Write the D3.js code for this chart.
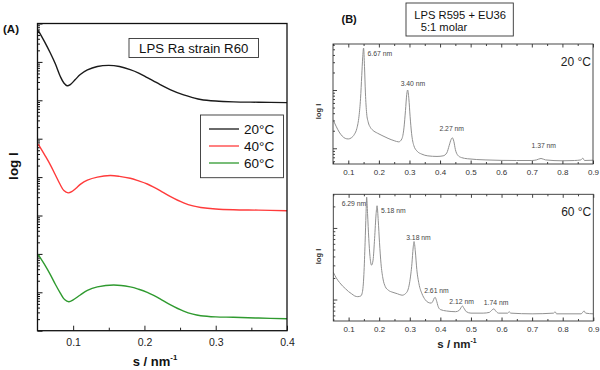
<!DOCTYPE html>
<html><head><meta charset="utf-8">
<script src="https://cdn.jsdelivr.net/npm/d3@7"></script>
<style>
body{margin:0;background:#fff}
svg{display:block}
text{font-family:"Liberation Sans",Arial,Helvetica,sans-serif}
</style>
</head><body>
<svg id="c" width="600" height="370"></svg>
<script>
// ---------- DATA ----------
// Panel A: [s (nm^-1), log10 I (arbitrary offset)]
const curveA20 = [[0.051,7.82],[0.060,7.52],[0.068,7.23],[0.075,6.95],[0.082,6.62],[0.087,6.45],[0.0915,6.38],[0.096,6.41],[0.103,6.54],[0.110,6.67],[0.120,6.79],[0.134,6.88],[0.150,6.91],[0.165,6.88],[0.180,6.80],[0.192,6.71],[0.204,6.59],[0.213,6.50],[0.222,6.41],[0.236,6.28],[0.255,6.14],[0.268,6.07],[0.279,6.02],[0.300,5.98],[0.325,5.96],[0.360,5.95],[0.400,5.94]];
const curveA40 = [[0.051,4.86],[0.060,4.58],[0.068,4.32],[0.075,4.06],[0.082,3.80],[0.087,3.65],[0.093,3.59],[0.098,3.62],[0.104,3.71],[0.110,3.81],[0.120,3.92],[0.134,4.00],[0.152,4.04],[0.165,4.02],[0.180,3.97],[0.192,3.90],[0.204,3.82],[0.213,3.74],[0.222,3.65],[0.236,3.50],[0.255,3.33],[0.268,3.25],[0.279,3.21],[0.300,3.17],[0.325,3.15],[0.360,3.14],[0.400,3.125]];
const curveA60 = [[0.051,1.98],[0.060,1.72],[0.068,1.46],[0.075,1.21],[0.082,0.98],[0.088,0.81],[0.094,0.755],[0.100,0.80],[0.110,0.93],[0.120,1.05],[0.134,1.14],[0.157,1.19],[0.180,1.14],[0.192,1.08],[0.204,1.00],[0.213,0.92],[0.222,0.83],[0.236,0.68],[0.255,0.51],[0.268,0.43],[0.279,0.39],[0.300,0.36],[0.325,0.35],[0.360,0.33],[0.400,0.31]];
const seriesA = ["20°C","40°C","60°C"];
const xTicksA = [0.1,0.2,0.3,0.4];

// Panel B: [s (nm^-1), log10 I]
const curveB20 = [[0.050,0.49],[0.060,0.38],[0.070,0.28],[0.080,0.21],[0.090,0.17],[0.100,0.16],[0.110,0.18],[0.120,0.24],[0.128,0.34],[0.135,0.55],[0.140,0.85],[0.144,1.25],[0.147,1.55],[0.150,1.72],[0.153,1.40],[0.156,0.95],[0.160,0.60],[0.165,0.45],[0.172,0.36],[0.180,0.31],[0.195,0.26],[0.210,0.22],[0.230,0.17],[0.250,0.13],[0.265,0.11],[0.275,0.16],[0.282,0.35],[0.287,0.65],[0.291,0.92],[0.294,1.00],[0.298,0.85],[0.302,0.55],[0.307,0.25],[0.314,0.05],[0.325,-0.05],[0.340,-0.10],[0.360,-0.13],[0.390,-0.14],[0.410,-0.13],[0.422,-0.08],[0.430,0.05],[0.436,0.15],[0.440,0.18],[0.445,0.12],[0.450,-0.02],[0.458,-0.12],[0.470,-0.16],[0.490,-0.18],[0.550,-0.20],[0.650,-0.21],[0.700,-0.21],[0.715,-0.20],[0.730,-0.175],[0.745,-0.20],[0.800,-0.215],[0.840,-0.21],[0.860,-0.20],[0.867,-0.17],[0.872,-0.21],[0.900,-0.205]];
const curveB60 = [[0.050,0.38],[0.060,0.30],[0.070,0.24],[0.080,0.19],[0.090,0.15],[0.100,0.11],[0.110,0.08],[0.120,0.05],[0.130,0.04],[0.140,0.05],[0.145,0.10],[0.150,0.35],[0.154,0.80],[0.157,1.20],[0.159,1.43],[0.162,1.20],[0.166,0.85],[0.170,0.60],[0.175,0.48],[0.180,0.55],[0.185,0.85],[0.190,1.20],[0.193,1.31],[0.197,1.10],[0.201,0.80],[0.206,0.50],[0.212,0.30],[0.220,0.18],[0.230,0.13],[0.245,0.10],[0.260,0.08],[0.275,0.06],[0.290,0.10],[0.300,0.25],[0.307,0.50],[0.311,0.72],[0.314,0.81],[0.318,0.68],[0.323,0.42],[0.330,0.22],[0.340,0.08],[0.350,0.00],[0.360,-0.04],[0.370,-0.05],[0.376,-0.02],[0.380,0.02],[0.383,0.03],[0.387,-0.01],[0.393,-0.10],[0.400,-0.14],[0.420,-0.16],[0.450,-0.17],[0.462,-0.15],[0.468,-0.11],[0.472,-0.09],[0.477,-0.12],[0.485,-0.17],[0.500,-0.19],[0.540,-0.19],[0.560,-0.18],[0.568,-0.15],[0.575,-0.13],[0.581,-0.16],[0.590,-0.19],[0.620,-0.19],[0.625,-0.17],[0.630,-0.19],[0.700,-0.20],[0.770,-0.19],[0.775,-0.17],[0.780,-0.20],[0.860,-0.20],[0.870,-0.16],[0.875,-0.19],[0.900,-0.20]];
const xTicksB = [0.1,0.2,0.3,0.4,0.5,0.6,0.7,0.8,0.9];
const peaksB20 = ["6.67","3.40","2.27","1.37"];   // d-spacings, nm
const peaksB60 = ["6.29","5.18","3.18","2.61","2.12","1.74"];

// ---------- LAYOUT ----------
const svg = d3.select("#c");
const FONT = '"Liberation Sans",Arial,sans-serif';
const pow10 = v => Math.pow(10, v);

function supTitle(g, x, y, size, color) {
  const t = g.append("text").attr("x", x).attr("y", y).attr("text-anchor","middle")
    .attr("font-size", size).attr("font-weight","bold").attr("fill", color);
  t.append("tspan").text("s / nm");
  t.append("tspan").attr("dy", -size*0.45).attr("font-size", size*0.6).text("-1");
}
function styleAxis(g, col, fs) {
  g.select(".domain").remove();
  g.selectAll("line").attr("stroke", col);
  g.selectAll("text").attr("fill", col).attr("font-size", fs).attr("font-family", FONT);
}

// ===== Panel A =====
const A = {l:37.5, r:287, t:23.5, b:330.7};
const xA = d3.scaleLinear().domain([0.05,0.4]).range([A.l, A.r]);
const yA = d3.scaleLog().domain([1, 1e8]).range([A.b, A.t]);
const gA = svg.append("g");

const yTicksAll = yA.ticks();
const yMajA = yTicksAll.filter(v => Math.abs(Math.log10(v) - Math.round(Math.log10(v))) < 1e-9);
const yMinA = yTicksAll.filter(v => !yMajA.includes(v));
styleAxis(gA.append("g").attr("transform",`translate(${A.l},0)`).call(d3.axisLeft(yA).tickValues(yMajA).tickSize(-5).tickFormat("")), "#111", 10);
styleAxis(gA.append("g").attr("transform",`translate(${A.l},0)`).call(d3.axisLeft(yA).tickValues(yMinA).tickSize(-2.5).tickFormat("")), "#111", 10);
styleAxis(gA.append("g").attr("transform",`translate(0,${A.b})`).call(d3.axisBottom(xA).tickValues(xTicksA).tickSize(-5).tickPadding(8).tickFormat(d3.format(".1f"))), "#222", 10.5);
styleAxis(gA.append("g").attr("transform",`translate(0,${A.b})`).call(d3.axisBottom(xA).tickValues([0.15,0.25,0.35]).tickSize(-3).tickFormat("")), "#222", 10.5);

const colorsA = ["#1a1a1a","#ff3b3b","#2f9a2f"];
const lineA = d3.line().x(d => xA(d[0])).y(d => yA(pow10(d[1]))).curve(d3.curveCatmullRom.alpha(0.5));
[curveA20, curveA40, curveA60].forEach((c,i) => {
  gA.append("path").datum(c).attr("d", lineA).attr("fill","none")
    .attr("stroke", colorsA[i]).attr("stroke-width", 1.4);
});
gA.append("rect").attr("x",A.l).attr("y",A.t).attr("width",A.r-A.l).attr("height",A.b-A.t)
  .attr("fill","none").attr("stroke","#111").attr("stroke-width",1.3);

// title box
gA.append("rect").attr("x",129).attr("y",38.5).attr("width",129.5).attr("height",19)
  .attr("fill","#fff").attr("stroke","#333").attr("stroke-width",0.9);
gA.append("text").attr("x",193.7).attr("y",53.3).attr("text-anchor","middle")
  .attr("font-size",13.2).attr("fill","#111").text("LPS Ra strain R60");

// legend
const leg = gA.append("g");
leg.append("rect").attr("x",200.5).attr("y",115).attr("width",83).attr("height",62.7)
  .attr("fill","#fff").attr("stroke","#333").attr("stroke-width",0.9);
seriesA.forEach((s,i) => {
  const yy = 129 + i*17;
  leg.append("line").attr("x1",209).attr("x2",239).attr("y1",yy).attr("y2",yy)
    .attr("stroke", colorsA[i]).attr("stroke-width",1.3);
  leg.append("text").attr("x",244).attr("y",yy+5).attr("font-size",13.5).attr("fill","#111").text(s);
});

gA.append("text").attr("x",3).attr("y",32.5).attr("font-size",11.5).attr("font-weight","bold").attr("fill","#111").text("(A)");
gA.append("text").attr("transform","translate(18,166) rotate(-90)").attr("text-anchor","middle")
  .attr("font-size",13.5).attr("font-weight","bold").attr("fill","#111").text("log I");
supTitle(gA, 155, 365.5, 13, "#111");

// ===== Panel B =====
const gB = svg.append("g");
const colB = "#444", curveCol = "#909090";
function panelB(box, logDom, data, peaks, labelOff, temp, tempY, yLabelY) {
  const x = d3.scaleLinear().domain([0.05,0.9]).range([box.l, box.r]);
  const y = d3.scaleLog().domain(logDom.map(pow10)).range([box.b, box.t]);
  const g = gB.append("g");
  const clipId = "clip" + Math.round(box.t);
  g.append("clipPath").attr("id", clipId).append("rect")
    .attr("x",box.l).attr("y",box.t).attr("width",box.r-box.l).attr("height",box.b-box.t);
  const all = y.ticks();
  const maj = all.filter(v => Math.abs(Math.log10(v) - Math.round(Math.log10(v))) < 1e-9);
  const mino = all.filter(v => !maj.includes(v));
  styleAxis(g.append("g").attr("transform",`translate(${box.l},0)`).call(d3.axisLeft(y).tickValues(maj).tickSize(-4).tickFormat("")), colB, 8);
  styleAxis(g.append("g").attr("transform",`translate(${box.l},0)`).call(d3.axisLeft(y).tickValues(mino).tickSize(-2).tickFormat("")), colB, 8);
  const minorX = [0.05,0.15,0.25,0.35,0.45,0.55,0.65,0.75,0.85];
  styleAxis(g.append("g").attr("transform",`translate(0,${box.b})`).call(d3.axisBottom(x).tickValues(xTicksB).tickSize(-3.5).tickPadding(5).tickFormat(d3.format(".1f"))), "#333", 8);
  styleAxis(g.append("g").attr("transform",`translate(0,${box.b})`).call(d3.axisBottom(x).tickValues(minorX).tickSize(-2).tickFormat("")), colB, 8);
  styleAxis(g.append("g").attr("transform",`translate(0,${box.t})`).call(d3.axisTop(x).tickValues(xTicksB).tickSize(-3.5).tickFormat("")), colB, 8);
  styleAxis(g.append("g").attr("transform",`translate(0,${box.t})`).call(d3.axisTop(x).tickValues(minorX).tickSize(-2).tickFormat("")), colB, 8);

  const line = d3.line().x(d => x(d[0])).y(d => y(pow10(d[1]))).curve(d3.curveMonotoneX);
  g.append("path").datum(data).attr("d", line).attr("fill","none").attr("stroke",curveCol)
    .attr("stroke-width",1).attr("clip-path",`url(#${clipId})`);
  g.append("rect").attr("x",box.l).attr("y",box.t).attr("width",box.r-box.l).attr("height",box.b-box.t)
    .attr("fill","none").attr("stroke","#333").attr("stroke-width",0.9);

  peaks.forEach((p,i) => {
    const o = labelOff[i];
    g.append("text").attr("x", x(1/(+p)) + o[0]).attr("y", o[1])
      .attr("font-size",6.8).attr("fill","#444").text(p + " nm");
  });
  g.append("text").attr("x", box.r-2).attr("y", tempY).attr("text-anchor","end")
    .attr("font-size",12).attr("fill","#222").text(temp);
  g.append("text").attr("transform",`translate(320.5,${yLabelY}) rotate(-90)`).attr("text-anchor","middle")
    .attr("font-size",7.5).attr("font-weight","bold").attr("fill","#333").text("log I");
}
panelB({l:333, r:593, t:44, b:164}, [-0.27, 1.79], curveB20, peaksB20,
  [[4,56],[-7,85.7],[-13,130.7],[-9.5,148.3]], "20 °C", 65.5, 111.5);
panelB({l:333.3, r:593.3, t:194.3, b:321}, [-0.30, 1.47], curveB60, peaksB60,
  [[-25,205.7],[4,213.3],[-8,240],[-11,293.3],[-13,304],[-10,305]], "60 °C", 216, 256.5);

gB.append("text").attr("x",341.5).attr("y",22.5).attr("font-size",11).attr("font-weight","bold").attr("fill","#111").text("(B)");
gB.append("rect").attr("x",406).attr("y",3).attr("width",107.3).attr("height",33)
  .attr("fill","#fff").attr("stroke","#333").attr("stroke-width",0.9);
gB.append("text").attr("x",414.3).attr("y",18.5).attr("font-size",11.2).attr("fill","#111").text("LPS R595 + EU36");
gB.append("text").attr("x",420.7).attr("y",30.8).attr("font-size",11.2).attr("fill","#111").text("5:1 molar");
supTitle(gB, 457, 348, 11.5, "#222");
</script>
</body></html>
